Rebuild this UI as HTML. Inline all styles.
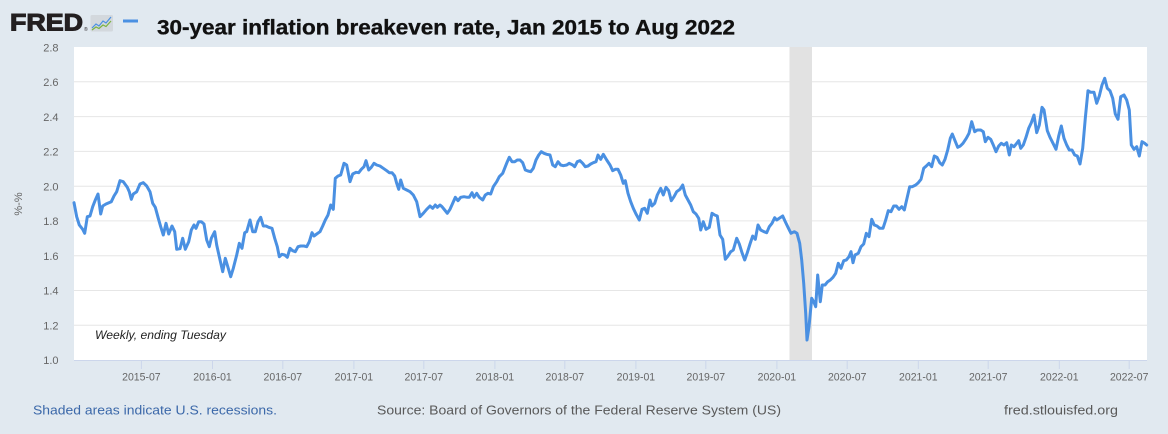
<!DOCTYPE html>
<html><head><meta charset="utf-8"><style>
html,body{margin:0;padding:0;background:#e1e9f0;}
svg{display:block;}
text{font-family:"Liberation Sans",Arial,sans-serif;}
</style></head><body>
<svg width="1168" height="434" viewBox="0 0 1168 434" xmlns="http://www.w3.org/2000/svg">
<rect x="0" y="0" width="1168" height="434" fill="#e1e9f0"/>
<!-- header -->
<text x="10" y="30.5" font-size="24" font-weight="bold" fill="#231f20" stroke="#231f20" stroke-width="1.1" textLength="73" lengthAdjust="spacingAndGlyphs">FRED</text>
<text x="84" y="31" font-size="5" fill="#231f20">®</text>
<rect x="90.5" y="15" width="22.5" height="16.5" rx="1.5" fill="#d3d8dd"/>
<polyline points="92,28 96,24 99,26 103,21 106,23 111,17" fill="none" stroke="#4a90e2" stroke-width="1.2"/>
<polyline points="92,30 96,27 99,28.5 103,25 106,26.5 111,21" fill="none" stroke="#7cb342" stroke-width="1.2"/>
<rect x="123" y="19.5" width="15" height="3" fill="#4a90e2"/>
<text x="157" y="34.3" font-size="21" font-weight="bold" fill="#111" stroke="#111" stroke-width="0.35" textLength="578" lengthAdjust="spacingAndGlyphs">30-year inflation breakeven rate, Jan 2015 to Aug 2022</text>
<!-- plot area -->
<rect x="74" y="47" width="1073" height="313" fill="#ffffff"/>
<g stroke="#e6e6e6" stroke-width="1">
<line x1="74" y1="81.8" x2="1147" y2="81.8"/>
<line x1="74" y1="116.6" x2="1147" y2="116.6"/>
<line x1="74" y1="151.4" x2="1147" y2="151.4"/>
<line x1="74" y1="186.2" x2="1147" y2="186.2"/>
<line x1="74" y1="220.9" x2="1147" y2="220.9"/>
<line x1="74" y1="255.7" x2="1147" y2="255.7"/>
<line x1="74" y1="290.5" x2="1147" y2="290.5"/>
<line x1="74" y1="325.3" x2="1147" y2="325.3"/>
</g>
<rect x="789.5" y="47" width="22.5" height="313" fill="#e2e2e2"/>
<line x1="74" y1="360.5" x2="1147" y2="360.5" stroke="#ccd6eb" stroke-width="1"/>
<g stroke="#ccd6eb" stroke-width="1">
<line x1="141.4" y1="360" x2="141.4" y2="369"/>
<line x1="212.5" y1="360" x2="212.5" y2="369"/>
<line x1="282.8" y1="360" x2="282.8" y2="369"/>
<line x1="353.9" y1="360" x2="353.9" y2="369"/>
<line x1="423.8" y1="360" x2="423.8" y2="369"/>
<line x1="494.9" y1="360" x2="494.9" y2="369"/>
<line x1="564.8" y1="360" x2="564.8" y2="369"/>
<line x1="635.9" y1="360" x2="635.9" y2="369"/>
<line x1="705.8" y1="360" x2="705.8" y2="369"/>
<line x1="776.9" y1="360" x2="776.9" y2="369"/>
<line x1="847.2" y1="360" x2="847.2" y2="369"/>
<line x1="918.3" y1="360" x2="918.3" y2="369"/>
<line x1="988.2" y1="360" x2="988.2" y2="369"/>
<line x1="1059.3" y1="360" x2="1059.3" y2="369"/>
<line x1="1129.2" y1="360" x2="1129.2" y2="369"/>
</g>
<!-- y labels -->
<g font-size="11" fill="#666666" text-anchor="end">
<text x="58.5" y="51.5">2.8</text>
<text x="58.5" y="86">2.6</text>
<text x="58.5" y="121">2.4</text>
<text x="58.5" y="155.5">2.2</text>
<text x="58.5" y="190.5">2.0</text>
<text x="58.5" y="225">1.8</text>
<text x="58.5" y="260">1.6</text>
<text x="58.5" y="294.5">1.4</text>
<text x="58.5" y="329.5">1.2</text>
<text x="58.5" y="364">1.0</text>
</g>
<text x="0" y="0" font-size="11" fill="#666666" text-anchor="middle" transform="translate(22,204) rotate(-90)">%-%</text>
<!-- x labels -->
<g font-size="11" fill="#666666" text-anchor="middle">
<text x="141.4" y="380.5" textLength="38.5" lengthAdjust="spacingAndGlyphs">2015-07</text>
<text x="212.5" y="380.5" textLength="38.5" lengthAdjust="spacingAndGlyphs">2016-01</text>
<text x="282.8" y="380.5" textLength="38.5" lengthAdjust="spacingAndGlyphs">2016-07</text>
<text x="353.9" y="380.5" textLength="38.5" lengthAdjust="spacingAndGlyphs">2017-01</text>
<text x="423.8" y="380.5" textLength="38.5" lengthAdjust="spacingAndGlyphs">2017-07</text>
<text x="494.9" y="380.5" textLength="38.5" lengthAdjust="spacingAndGlyphs">2018-01</text>
<text x="564.8" y="380.5" textLength="38.5" lengthAdjust="spacingAndGlyphs">2018-07</text>
<text x="635.9" y="380.5" textLength="38.5" lengthAdjust="spacingAndGlyphs">2019-01</text>
<text x="705.8" y="380.5" textLength="38.5" lengthAdjust="spacingAndGlyphs">2019-07</text>
<text x="776.9" y="380.5" textLength="38.5" lengthAdjust="spacingAndGlyphs">2020-01</text>
<text x="847.2" y="380.5" textLength="38.5" lengthAdjust="spacingAndGlyphs">2020-07</text>
<text x="918.3" y="380.5" textLength="38.5" lengthAdjust="spacingAndGlyphs">2021-01</text>
<text x="988.2" y="380.5" textLength="38.5" lengthAdjust="spacingAndGlyphs">2021-07</text>
<text x="1059.3" y="380.5" textLength="38.5" lengthAdjust="spacingAndGlyphs">2022-01</text>
<text x="1129.2" y="380.5" textLength="38.5" lengthAdjust="spacingAndGlyphs">2022-07</text>
</g>
<text x="95" y="339" font-size="12" font-style="italic" fill="#222" textLength="131" lengthAdjust="spacingAndGlyphs">Weekly, ending Tuesday</text>
<!-- series -->
<polyline fill="none" stroke="#4a90e2" stroke-width="3" stroke-linejoin="round" stroke-linecap="round" points="
74,202.7 76.7,216.7 79.3,225 82.7,229.3 84.7,233.3 87.3,216.7 90,216 92.7,206.7 95.3,200 98,194 100.7,214 102.7,206 106,204 111.3,201.7 114,196 116.7,191.7 120,180.7 123.3,181.7 127.3,187.3 129.3,191.7 131.3,199.3 133.3,194 136.7,191.7 140,184 143.3,182.7 146.7,186 150,191.7 152.7,203.3 155.3,207.3 158.3,218.3 160.7,226.7 163.3,235 166,223.3 168.7,234 172,226 174.7,231.7 176.7,249.3 180,248.7 182.7,238.3 185.3,249.3 188.7,241.7 191.3,230 194,225 196,228.3 198.7,221.7 201.3,221.7 204,224 206.7,240 209.3,246.7 211.3,238.3 214.7,231.7 216.7,245 219.3,256.7 222.7,271.7 225.3,258.3 227.3,265 230.7,276.7 233.3,268.3 236.7,255 239.3,243.3 242,248.3 244.7,232.7 246.7,231.7 250,220
252.7,231.7 255.3,231.7 258,221.7 260.7,217.3 263.3,226 266,226 268.7,227.3 272,228.3 274.7,238.3 277.3,246.7 279.3,256.7 282,254.3 284.7,255 287.3,257.3 290,248.3 292.7,250.7 295.3,251.7 298,246.7 300.7,246 304,246 306.7,246.7 309.3,241.7 312,232.7 314,236 316.7,234 320,231.7 322.7,226 325.3,220 328,215 330.7,205 333.3,209.3 335.3,178.3 338,176 340.7,175 344,163.3 346.7,165 350,181.7 352.7,174 356,172.3 358.7,172.7 361.3,169.3 364,166.7 366,160.7 368.7,170 371.3,167.3 374,163.3 376.7,165 380,166 383.3,168.3 386.7,170.7 389.3,172.7 392,172.7 394.7,176 396.7,183.3 398.7,189.3 400.7,180 403.3,188.3 406.7,190 410,191.7 413.3,195 416.7,201.7 420,216.7 423.3,213.3 426.7,209.3 430,206
432.7,208.3 435.3,205 437.3,207.3 440,205 442,206.7 444.7,210 447.3,213.3 450,209.3 452.7,203.3 455.3,197.3 458,200.7 460.7,197.3 464,196.7 467.3,197.3 469.3,197.3 472,192.7 474,197.3 476.7,193.3 479.3,197.3 482.7,200 485.3,195 488,193.3 490.7,194 493.3,186.7 496.7,181.7 499.3,176.7 502.7,173.3 505.3,166.7 507.3,161.7 509.3,157.3 512,161.7 514.7,161.7 517.3,160 520,160 522.7,162.7 525.3,170 528,171 530.7,171.7 533.3,168.3 536,160 538.7,155 541.3,151.7 544,153.3 546.7,154.3 550,155 552.7,165 555.3,166.7 558,161.7 560.7,165 563.3,165.7 566.7,165 569.3,163.3 572.7,165 574.7,166.7 577.3,161.7 580,160.7 582.7,163.3 585.3,166.7 588,166 590.7,164 593.3,162.7 596,161.7 598,155 600.7,159.3 603.3,154.3 606.7,160 610,165
612.7,170.7 615.3,169.3 618,169.3 620.7,175 623.3,183.3 625.3,180.7 628,193.3 630.7,201.7 633.3,208.3 636,214 639.3,220 642,209.3 644.7,208.3 647.3,213.3 650,200 652,206 654.7,203.3 657.3,195 660.7,188.3 663.3,195 666,187.3 668.7,190.7 671.3,200.7 674,196.7 676.7,191.7 680,189.3 682.7,185 685.3,195 688,200 690.7,205 693.3,211.7 696,214 698.7,218.3 700.7,230 703.3,221.7 706,229.3 709.3,227.3 712,213.3 714.7,215 717.3,216 720,235 722.7,239.3 725.3,259.3 728,256 730.7,251.7 733.3,250 736.7,238.3 739.3,244 742,252.7 744.7,260 747.3,252.7 750,244 752.7,236 755.3,239.3 758,225 760.7,230 764,231.7 766.7,232.7 769.3,226.7 772,223.3 774.7,217.7 776.7,220 779.3,218.3 782.7,216 785.3,221.7 788,227.3
791,233.3 794.3,231.7 797,233.3 799.7,243.3 801.7,260 803.7,283.3 805.7,313.3 807,340 809,326.7 811.7,298.3 813.7,301.7 815.7,306.7 817.7,275 820.3,301.7 822.3,285 825,285 827.7,281.7 830.3,280 833,277.3 835.7,273.3 838.3,263.3 841,268.3 843.7,260.7 846.3,260 849,256.7 851,251.7 853,262.7 855,255 858.3,253.3 861,246.7 863.7,244 866.3,233.3 869,236.7 871.7,219.3 874.3,225 877,226 879.7,228.3 883,228.3 885.7,220 888.3,210.7 891,211.7 893.7,206 896.3,206 899,209.3 901.7,206.7 904.3,210 907,198.3 909.7,186.7 912.3,186.7 915.7,185 918.3,182.7 921,179.3 923.7,168.3 926.3,166 929,163.3 931.7,166.7 934.3,156 937,157.3 939.7,162.7 942.3,165 945,159.3 947.7,150 950.3,138.3 952.3,134 955,140.7 957.7,147.3 960.3,146 963,143.3 966.3,138.3 969,133.3 971.7,121.7
974.7,131.7 977.3,130 980.7,130 983.3,131.7 985.3,141.7 988,137.3 990.7,139.3 993.3,145 996,151.7 998.7,146 1001.3,143.3 1004,145 1006.7,142.7 1009.3,155 1011.3,145 1014,146.7 1016.7,143.3 1018.7,140.7 1020.7,148.3 1023.3,145 1026,137.3 1028.7,128.3 1031.3,122.7 1034,115 1036.7,132.7 1039.3,125 1042,107.3 1044,110 1047.3,130.7 1050,137.3 1052.7,142.7 1056,149.3 1058.7,136 1061.3,126 1064,138.3 1066.7,145 1069.3,150 1072,150 1074.7,155 1077.3,156 1080,164 1082.7,148.3 1085.3,118.3 1088,90.7 1090.7,92.3 1094,92.3 1096.7,103.3 1099.3,96 1102,85 1104.7,78.3 1107.3,88.3 1110,90.7 1112.7,98.3 1115.3,114 1118,119.3 1120.7,96.7 1124,95 1126.7,100 1129.3,110 1131.3,145 1134,149.3 1136.7,146.7 1139.3,156 1142,141.7 1144.7,143.3 1146.7,145"/>
<!-- footer -->
<text x="33" y="414.5" font-size="13" fill="#3b68a9" textLength="244" lengthAdjust="spacingAndGlyphs">Shaded areas indicate U.S. recessions.</text>
<text x="377" y="414.5" font-size="13" fill="#595959" textLength="404" lengthAdjust="spacingAndGlyphs">Source: Board of Governors of the Federal Reserve System (US)</text>
<text x="1004" y="414.5" font-size="13" fill="#595959" textLength="114" lengthAdjust="spacingAndGlyphs">fred.stlouisfed.org</text>
</svg>
</body></html>
